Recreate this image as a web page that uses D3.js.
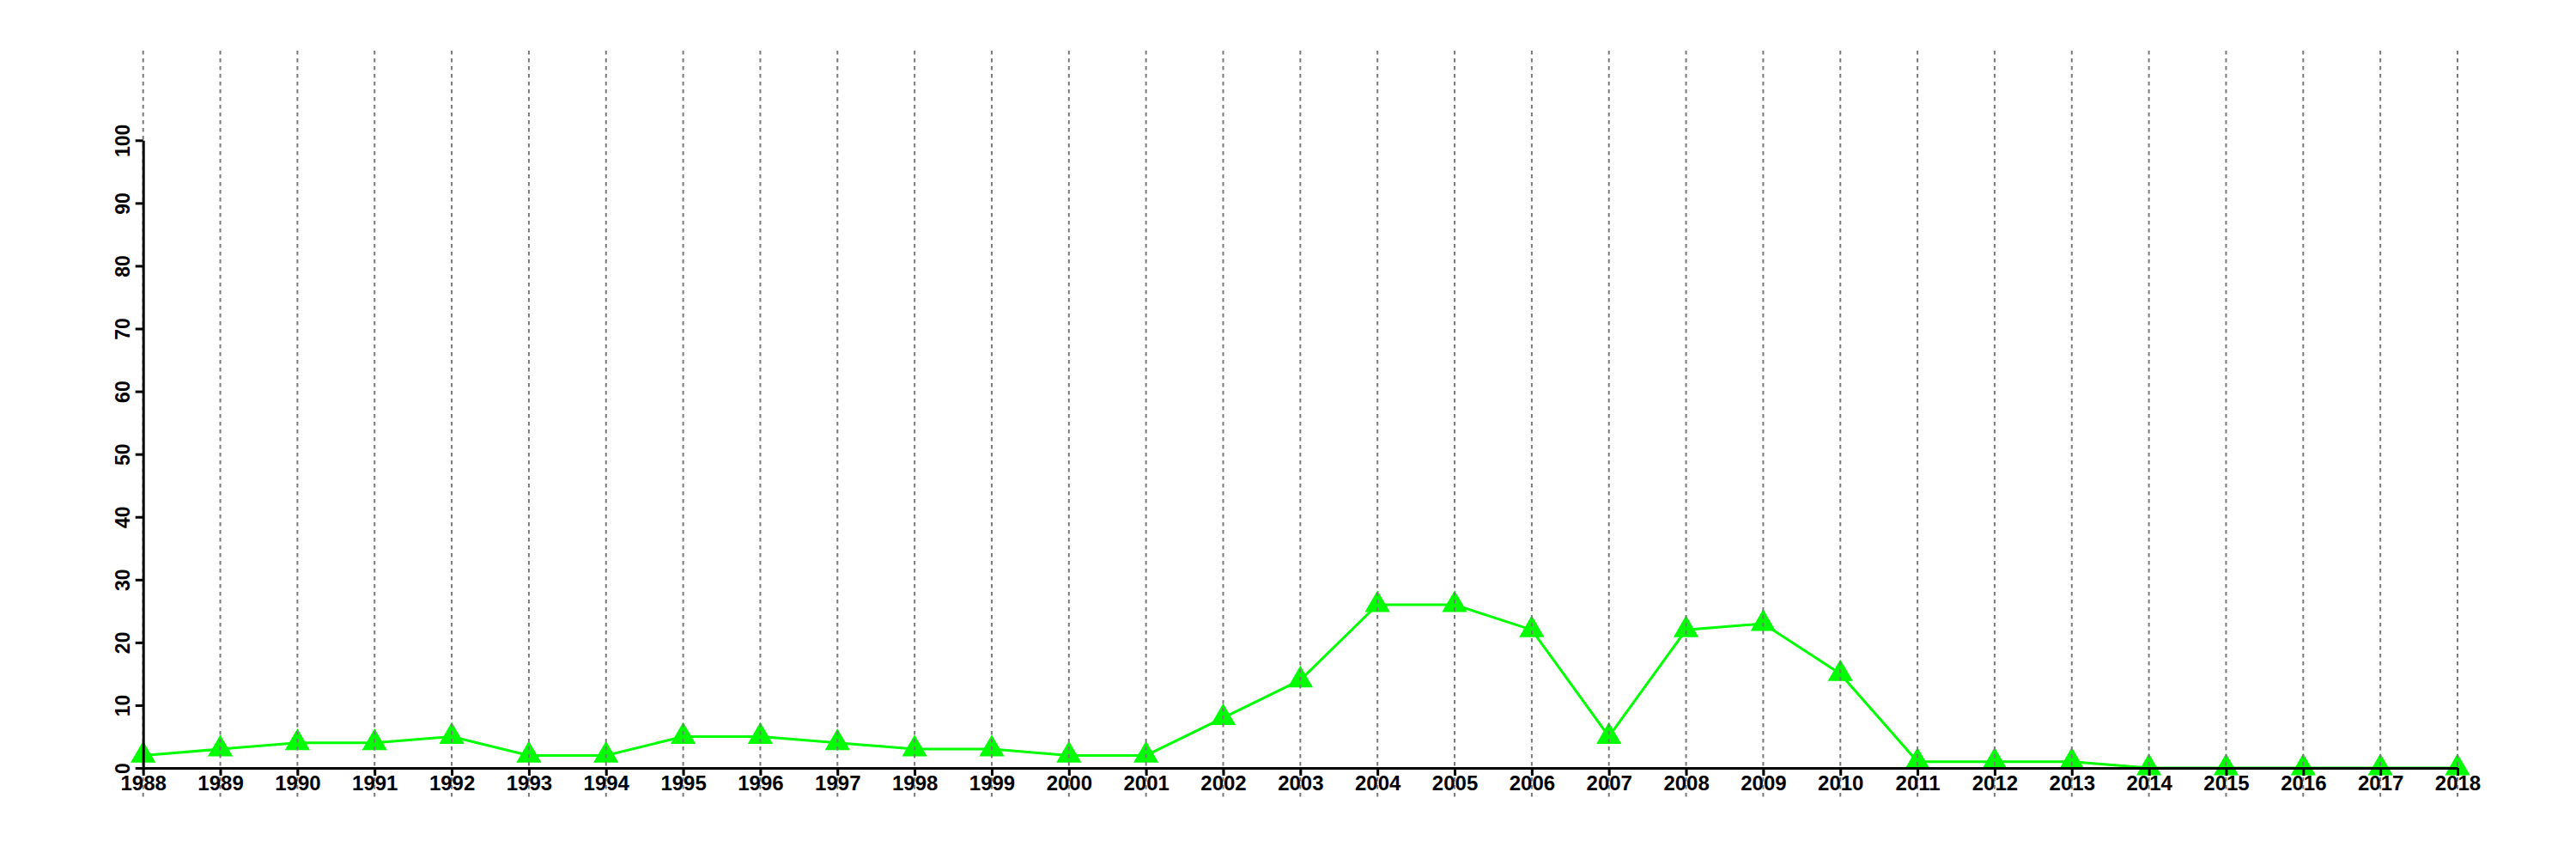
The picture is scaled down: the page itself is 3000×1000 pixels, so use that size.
<!DOCTYPE html>
<html>
<head>
<meta charset="utf-8">
<script src="https://cdn.jsdelivr.net/npm/d3@7"></script>
<style>
  html, body { margin: 0; padding: 0; background: #fff; }
  svg { display: block; }
  text { font-family: "Liberation Sans", Arial, Helvetica, sans-serif; font-weight: bold; }
</style>
</head>
<body>
<svg id="chart" width="3000" height="1000"></svg>
<script>
const years = [1988,1989,1990,1991,1992,1993,1994,1995,1996,1997,1998,1999,2000,2001,2002,2003,2004,2005,2006,2007,2008,2009,2010,2011,2012,2013,2014,2015,2016,2017,2018];
const values = [2,3,4,4,5,2,2,5,5,4,3,3,2,2,8,14,26,26,22,5,22,23,15,1,1,1,0,0,0,0,0];
const yTicks = [0,10,20,30,40,50,60,70,80,90,100];

const svg = d3.select("#chart");
svg.append("rect").attr("width", 3000).attr("height", 1000).attr("fill", "#fff");

const x = d3.scaleLinear().domain([1988, 2018]).range([166.7, 2862]);
const y = d3.scaleLinear().domain([0, 100]).range([894, 163.3]);

// data line
const line = d3.line().x((d, i) => x(years[i])).y(d => y(d));
svg.append("path")
  .datum(values)
  .attr("d", line)
  .attr("fill", "none")
  .attr("stroke", "#00ff00")
  .attr("stroke-width", 3);

// triangles
const tri = d3.symbol().type(d3.symbolTriangle).size(370);
svg.append("g").selectAll("path")
  .data(values)
  .join("path")
  .attr("d", tri)
  .attr("transform", (d, i) => `translate(${x(years[i])},${y(d)})`)
  .attr("fill", "#00ff00");

// vertical dotted gridlines
svg.append("g").selectAll("line")
  .data(years)
  .join("line")
  .attr("x1", d => x(d)).attr("x2", d => x(d))
  .attr("y1", 59).attr("y2", 928)
  .attr("stroke", "#7a7a7a")
  .attr("stroke-width", 2)
  .attr("stroke-dasharray", "4.5,4.5");

// x axis
const xAxis = d3.axisBottom(x)
  .tickValues(years)
  .tickFormat(d3.format("d"))
  .tickSizeInner(9)
  .tickSizeOuter(0)
  .tickPadding(4);
const gx = svg.append("g").attr("transform", `translate(0,${y(0)})`).call(xAxis);
gx.select(".domain").attr("stroke", "#000").attr("stroke-width", 3);
gx.selectAll(".tick line").attr("stroke", "#000").attr("stroke-width", 3);
gx.selectAll(".tick text")
  .attr("fill", "#000")
  .attr("font-size", 24)
  .attr("font-family", "Liberation Sans, Arial, sans-serif")
  .attr("font-weight", "bold")
  .attr("dy", null)
  .attr("y", 26);

// y axis
const yAxis = d3.axisLeft(y)
  .tickValues(yTicks)
  .tickFormat(d3.format("d"))
  .tickSizeInner(9)
  .tickSizeOuter(0);
const gy = svg.append("g").attr("transform", `translate(${x(1988)},0)`).call(yAxis);
gy.select(".domain").attr("stroke", "#000").attr("stroke-width", 3);
gy.selectAll(".tick line").attr("stroke", "#000").attr("stroke-width", 3);
gy.selectAll(".tick text")
  .attr("fill", "#000")
  .attr("font-size", 23)
  .attr("font-family", "Liberation Sans, Arial, sans-serif")
  .attr("font-weight", "bold")
  .attr("x", null)
  .attr("dy", null)
  .attr("text-anchor", "middle")
  .attr("transform", "translate(-16,0) rotate(-90)");
</script>
</body>
</html>
